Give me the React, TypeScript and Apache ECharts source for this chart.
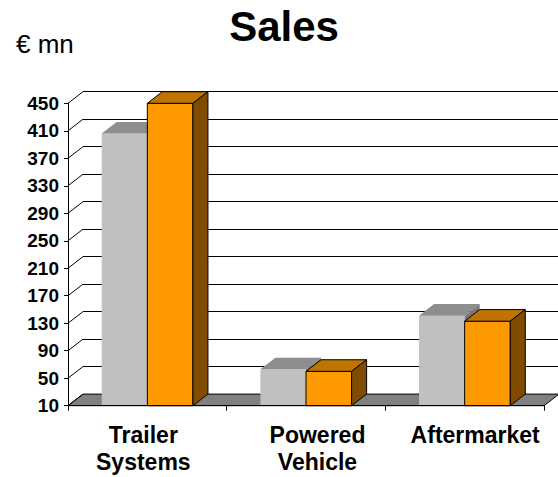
import React, { useEffect, useRef } from "react";
import * as echarts from "echarts";

const CATEGORIES = ["Trailer\nSystems", "Powered\nVehicle", "Aftermarket"];
const SERIES_PREV = [406, 63, 141];
const SERIES_CURR = [450, 60, 133];
const Y_MIN = 10;
const Y_MAX = 450;
const Y_STEP = 40;
const Y_TICKS = [10, 50, 90, 130, 170, 210, 250, 290, 330, 370, 410, 450];

const FONT = '"Liberation Sans", Arial, sans-serif';
const DX = 15;
const DY = -11.6;
const BAR_RATIO = 0.2875;

function barRenderer(side: "left" | "right", front: string, topC: string, sideC: string, stroke: string | null) {
  return (params: any, api: any) => {
    const i = api.value(0);
    const v = api.value(1);
    const t = api.coord([i, v]);
    const b = api.coord([i, Y_MIN]);
    const bw = api.size([1, 0])[0] * BAR_RATIO;
    const x0 = side === "left" ? t[0] - bw : t[0];
    const x1 = x0 + bw;
    const yt = t[1];
    const yb = b[1];
    const st = stroke ? { stroke, lineWidth: 1 } : { stroke: null, lineWidth: 0 };
    return {
      type: "group",
      children: [
        { type: "rect", shape: { x: x0, y: yt, width: bw, height: yb - yt }, style: { fill: front, ...st } },
        {
          type: "polygon",
          shape: { points: [[x0, yt], [x1, yt], [x1 + DX, yt + DY], [x0 + DX, yt + DY]] },
          style: { fill: topC, ...st },
        },
        {
          type: "polygon",
          shape: { points: [[x1, yt], [x1 + DX, yt + DY], [x1 + DX, yb + DY], [x1, yb]] },
          style: { fill: sideC, ...st },
        },
      ],
    };
  };
}

export default function App() {
  const ref = useRef<HTMLDivElement>(null);
  useEffect(() => {
    if (!ref.current) return;
    const chart = echarts.init(ref.current, null, { renderer: "svg" });
    const option: any = {
      animation: false,
      backgroundColor: "#fff",
      grid: [
        { left: 68, right: 14, top: 103.3, bottom: 71.3, outerBoundsMode: "none", containLabel: false },
        { left: 83, right: -1, top: 91.7, bottom: 82.9, outerBoundsMode: "none", containLabel: false },
      ],
      graphic: [
        {
          type: "text",
          x: 284,
          y: 26,
          style: {
            text: "Sales",
            fontSize: 42,
            fontWeight: "bold",
            fontFamily: FONT,
            fill: "#000",
            align: "center",
            verticalAlign: "middle",
          },
        },
        {
          type: "text",
          x: 16,
          y: 44,
          style: {
            text: "€ mn",
            fontSize: 26,
            fontFamily: FONT,
            fill: "#000",
            align: "left",
            verticalAlign: "middle",
          },
        },
      ],
      xAxis: [
        {
          type: "category",
          gridIndex: 0,
          data: CATEGORIES,
          z: 5,
          axisLine: { show: true, lineStyle: { color: "#000", width: 1 } },
          axisTick: { show: true, length: 5, lineStyle: { color: "#000" } },
          axisLabel: {
            margin: 16,
            interval: 0,
            formatter: (val: string, idx: number) =>
              val
                .split("\n")
                .map((l) => `{c${idx}|${l}}`)
                .join("\n"),
            rich: {
              c0: { fontSize: 23, fontWeight: "bold", fontFamily: FONT, color: "#000", lineHeight: 27, padding: [0, 8, 0, 0] },
              c1: { fontSize: 23, fontWeight: "bold", fontFamily: FONT, color: "#000", lineHeight: 27, padding: [0, 0, 0, 23] },
              c2: { fontSize: 23, fontWeight: "bold", fontFamily: FONT, color: "#000", lineHeight: 27, padding: [0, 0, 0, 21] },
            },
          },
          splitLine: { show: false },
        },
        { type: "category", gridIndex: 1, data: CATEGORIES, show: false },
      ],
      yAxis: [
        {
          type: "value",
          gridIndex: 0,
          min: Y_MIN,
          max: Y_MAX,
          interval: Y_STEP,
          z: 5,
          axisLine: { show: true, lineStyle: { color: "#000", width: 1 } },
          axisTick: { show: true, length: 4, lineStyle: { color: "#000" } },
          axisLabel: { fontSize: 19, fontWeight: "bold", fontFamily: FONT, color: "#000", margin: 9 },
          splitLine: { show: false },
        },
        {
          type: "value",
          gridIndex: 1,
          min: Y_MIN,
          max: Y_MAX,
          interval: Y_STEP,
          axisLine: { show: false },
          axisTick: { show: false },
          axisLabel: { show: false },
          splitLine: { show: true, lineStyle: { color: "#000", width: 1 } },
        },
      ],
      series: [
        {
          type: "custom",
          name: "floor",
          xAxisIndex: 0,
          yAxisIndex: 0,
          z: 1,
          silent: true,
          data: [[0, Y_MIN]],
          renderItem: (params: any, api: any) => {
            const cs = params.coordSys;
            const yb = api.coord([0, Y_MIN])[1];
            const x0 = cs.x;
            const x1 = cs.x + cs.width;
            return {
              type: "polygon",
              shape: { points: [[x0, yb], [x1, yb], [x1 + DX, yb + DY], [x0 + DX, yb + DY]] },
              style: { fill: "#808080", stroke: "#000", lineWidth: 1 },
            };
          },
        },
        {
          type: "custom",
          name: "wall",
          xAxisIndex: 0,
          yAxisIndex: 0,
          z: 1,
          silent: true,
          data: Y_TICKS.map((v) => [0, v]),
          renderItem: (params: any, api: any) => {
            const cs = params.coordSys;
            const y = api.coord([0, api.value(1)])[1];
            return {
              type: "line",
              shape: { x1: cs.x, y1: y, x2: cs.x + DX, y2: y + DY },
              style: { stroke: "#000", lineWidth: 1 },
            };
          },
        },
        {
          type: "custom",
          name: "Previous",
          xAxisIndex: 0,
          yAxisIndex: 0,
          z: 3,
          data: SERIES_PREV.map((v, i) => [i, v]),
          renderItem: barRenderer("left", "#c0c0c0", "#8e8e8e", "#7a7a7a", null),
        },
        {
          type: "custom",
          name: "Current",
          xAxisIndex: 0,
          yAxisIndex: 0,
          z: 4,
          data: SERIES_CURR.map((v, i) => [i, v]),
          renderItem: barRenderer("right", "#ff9900", "#bf7300", "#7f4c00", "#000"),
        },
      ],
    };
    chart.setOption(option);
    return () => chart.dispose();
  }, []);
  return (
    <div
      ref={ref}
      style={{ position: "fixed", left: 0, top: 0, width: 558, height: 477, background: "#fff" }}
    />
  );
}
